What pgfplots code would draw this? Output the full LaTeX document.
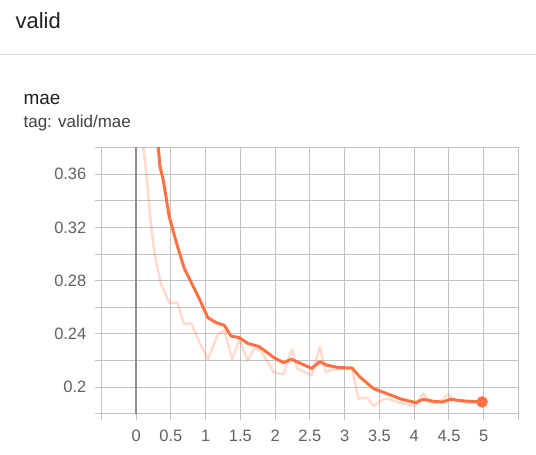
\documentclass[border=0pt]{standalone}
\usepackage{fontspec}
\setmainfont{Liberation Sans}
\usepackage{pgfplots}
\pgfplotsset{compat=1.18}
\definecolor{tbor}{HTML}{FF7043}
\definecolor{gridc}{HTML}{C2C2C2}
\definecolor{zeroc}{HTML}{8E8E8E}
\definecolor{ticklab}{HTML}{616161}
\definecolor{headc}{HTML}{212121}
\begin{document}
\begin{tikzpicture}
% page frame, 1pt = 1px of the reference
\fill[white] (0,0) rectangle (536pt,-455pt);
\node[anchor=base west, inner sep=0, text=headc, font=\fontsize{22}{22}\selectfont] at (15pt,-29pt) {valid};
\draw[gray!25, line width=1pt] (0,-55pt) -- (536pt,-55pt);
\node[anchor=base west, inner sep=0, text=headc, font=\fontsize{19}{19}\selectfont] at (23pt,-105pt) {mae};
\node[anchor=base west, inner sep=0, text=headc!85, font=\fontsize{17}{17}\selectfont] at (23pt,-127.7pt) {tag: valid/mae};

\begin{axis}[
    at={(101pt,-414.7pt)}, anchor=south west,
    scale only axis, width=418pt, height=267pt,
    xmin=-0.5, xmax=5.5, ymin=0.18, ymax=0.38,
    xtick={-0.5,0,0.5,1,1.5,2,2.5,3,3.5,4,4.5,5,5.5},
    xticklabels={,0,0.5,1,1.5,2,2.5,3,3.5,4,4.5,5,},
    ytick={0.18,0.20,0.22,0.24,0.26,0.28,0.30,0.32,0.34,0.36,0.38},
    yticklabels={,0.2,,0.24,,0.28,,0.32,,0.36,},
    grid=major, major grid style={gridc, line width=1pt},
    axis line style={gridc, line width=1pt},
    tick style={gridc, line width=1pt},
    tick align=outside, tick pos=left,
    major tick length=6.5pt,
    ticklabel style={font=\fontsize{16.5}{16.5}\selectfont, text=ticklab},
    xticklabel style={yshift=-6pt},
    yticklabel style={xshift=-5pt},
    /pgf/number format/assume math mode=true,
]
% x = 0 reference line
\addplot[zeroc, line width=2pt, forget plot] coordinates {(0,0.18) (0,0.38)};

% raw values
\addplot[tbor, opacity=0.25, line width=2.5pt, line join=round] coordinates {
(0.09,0.392) (0.104,0.3807) (0.161,0.3533) (0.21,0.3234) (0.271,0.2983) (0.353,0.2784)
(0.476,0.2634) (0.596,0.2634) (0.686,0.2477) (0.796,0.2477) (0.914,0.2335) (1.033,0.2210)
(1.176,0.2397) (1.271,0.2429) (1.381,0.2210) (1.486,0.2360) (1.604,0.2202) (1.70,0.2292)
(1.796,0.2272) (1.986,0.2110) (2.119,0.2097) (2.239,0.2285) (2.319,0.2140) (2.524,0.2088)
(2.643,0.2305) (2.724,0.2115) (2.819,0.2131) (2.986,0.2140) (3.104,0.2140) (3.20,0.1915)
(3.319,0.1923) (3.414,0.1860) (3.557,0.1910) (3.629,0.1914) (3.819,0.1880) (4.01,0.1860)
(4.129,0.1955) (4.229,0.1880) (4.367,0.1890) (4.486,0.1948) (4.604,0.1897) (4.771,0.1885)
(4.976,0.1880)
};

% smoothed values
\addplot[tbor, line width=3pt, line join=round] coordinates {
(0.30,0.395) (0.31,0.3857) (0.343,0.3658) (0.39,0.3558) (0.476,0.3283) (0.581,0.3084)
(0.69,0.2897) (0.914,0.2659) (1.033,0.2522) (1.153,0.2485) (1.271,0.2464) (1.367,0.2384)
(1.486,0.2372) (1.604,0.2330) (1.771,0.2305) (1.986,0.2222) (2.119,0.2185) (2.233,0.2210)
(2.524,0.2142) (2.643,0.2192) (2.747,0.2165) (2.914,0.2148) (3.104,0.2145) (3.214,0.2080)
(3.414,0.1990) (3.629,0.1948) (3.819,0.1910) (4.024,0.1885) (4.129,0.1910) (4.296,0.1893)
(4.414,0.1890) (4.519,0.1910) (4.724,0.1897) (4.976,0.1890)
};

% last point marker
\addplot[only marks, mark=*, mark size=5.5pt, mark options={draw=tbor, fill=tbor}] coordinates {(4.976,0.1890)};
\end{axis}
\end{tikzpicture}
\end{document}
